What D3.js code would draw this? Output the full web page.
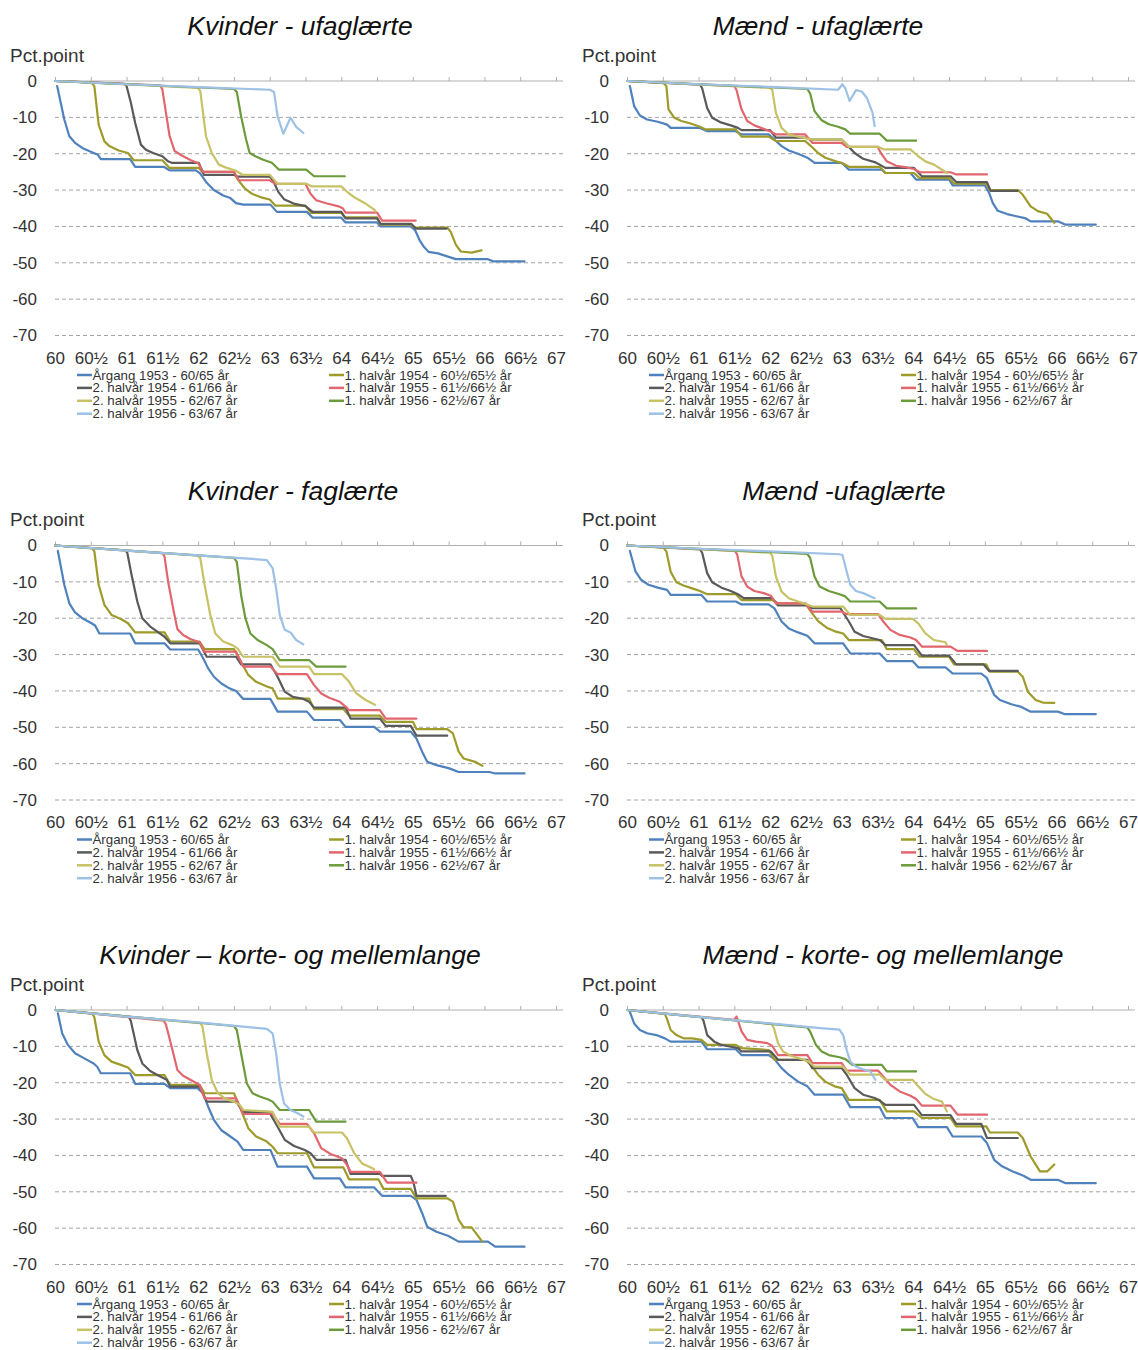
<!DOCTYPE html>
<html><head><meta charset="utf-8">
<script src="https://cdn.jsdelivr.net/npm/d3@7"></script>
<style>body{margin:0;background:#fff}svg{display:block}text{font-family:"Liberation Sans",Arial,sans-serif}</style>
</head><body>
<script>
// ---------- DATA ----------
const xTickValues = [60,60.5,61,61.5,62,62.5,63,63.5,64,64.5,65,65.5,66,66.5,67];
const xTickLabels = ["60","60½","61","61½","62","62½","63","63½","64","64½","65","65½","66","66½","67"];
const yTickValues = [0,-10,-20,-30,-40,-50,-60,-70];
const seriesNames = ["Årgang 1953 - 60/65 år","1. halvår 1954 - 60½/65½ år","2. halvår 1954 - 61/66 år","1. halvår 1955 - 61½/66½ år","2. halvår 1955 - 62/67 år","1. halvår 1956 - 62½/67 år","2. halvår 1956 - 63/67 år"];
const seriesColors = ["#4f81bd","#9e9b2a","#5a5a5a","#e2666e","#c8c266","#6c9b3b","#9dc1e6"];
const panelTitles = ["Kvinder - ufaglærte","Mænd - ufaglærte","Kvinder - faglærte","Mænd -ufaglærte","Kvinder – korte- og mellemlange","Mænd - korte- og mellemlange"];

// each series: flat list of [age, pct.point] pairs
const kvinderUfaglaerte = [
 [60.03,-1.4,60.13,-10.6,60.2,-15.2,60.28,-17,60.38,-18.4,60.54,-19.8,60.6,-20.3,60.64,-21.5,61.05,-21.5,61.12,-23.6,61.52,-23.6,61.6,-24.6,61.97,-24.6,62.03,-25.5,62.12,-28,62.22,-30,62.35,-31.5,62.45,-32.2,62.53,-33.6,62.63,-34,63.01,-34,63.1,-36,63.52,-36,63.6,-37.6,64,-37.6,64.06,-38.9,64.5,-38.9,64.55,-40,64.97,-40,65.03,-41,65.1,-44,65.15,-45.5,65.22,-47,65.35,-47.4,65.6,-49,66.05,-49,66.12,-49.6,66.56,-49.6],
 [60,0,60.51,-0.4,60.55,-1.5,60.61,-12,60.69,-16.6,60.76,-17.9,60.89,-19.1,61.02,-19.8,61.1,-21.8,61.5,-21.8,61.6,-23.9,62.01,-23.9,62.06,-25,62.5,-25,62.55,-27,62.65,-29.5,62.75,-31,62.88,-32,63,-32.6,63.08,-34.3,63.5,-34.3,63.58,-36.3,64,-36.3,64.05,-37.5,64.5,-37.5,64.55,-39.5,64.97,-39.5,65.03,-40.3,65.48,-40.3,65.53,-41.5,65.6,-45,65.67,-46.9,65.82,-47.2,65.96,-46.6],
 [60,0,60.97,-0.8,61,-1.4,61.06,-6,61.12,-11.5,61.2,-17.5,61.27,-18.9,61.37,-19.8,61.5,-20.7,61.58,-22.1,61.63,-22.5,62.01,-22.5,62.08,-25.8,62.5,-25.8,62.55,-26.3,63,-26.3,63.05,-27.5,63.12,-30.5,63.2,-32.5,63.35,-33.8,63.5,-34.4,63.6,-36,64,-36,64.06,-37.8,64.5,-37.8,64.55,-39.3,64.98,-39.3,65.04,-40.6,65.47,-40.6],
 [60,0,61.47,-1.2,61.5,-2.3,61.56,-10,61.6,-15,61.67,-19.2,61.77,-20.5,61.9,-21.8,62,-22.6,62.07,-25,62.5,-25,62.57,-27.3,63,-27.3,63.08,-28.3,63.5,-28.3,63.57,-31,63.65,-32.8,63.8,-33.7,63.95,-34.4,64.02,-35,64.06,-36.2,64.5,-36.2,64.57,-38.4,65.04,-38.4],
 [60,0,62,-1.9,62.03,-2.8,62.11,-15.2,62.19,-19.8,62.29,-23,62.4,-23.9,62.52,-24.6,62.62,-25.8,63,-25.8,63.11,-28.3,63.52,-28.3,63.59,-29,64,-29,64.1,-30.8,64.2,-32.2,64.33,-33.6,64.46,-35.4,64.48,-35.9],
 [60,0,62.5,-2.2,62.54,-3,62.6,-9.7,62.67,-16.1,62.72,-19.8,62.8,-20.7,62.9,-21.6,63.03,-22.5,63.13,-24.4,63.51,-24.4,63.62,-26.2,64.05,-26.2],
 [60,0,61,-0.9,62,-1.7,63,-2.4,63.06,-3,63.11,-9.7,63.19,-14.5,63.29,-10.1,63.37,-12.6,63.47,-14.3]
];
const maendUfaglaerte = [
 [60.04,-1.4,60.1,-6.9,60.18,-9.5,60.28,-10.6,60.43,-11.2,60.56,-12,60.61,-12.9,61.02,-12.9,61.12,-13.8,61.52,-13.8,61.6,-14.7,61.98,-14.7,62.06,-16.1,62.16,-17.9,62.26,-19.1,62.39,-20,62.52,-21.1,62.62,-22.5,63,-22.5,63.1,-24.4,63.56,-24.4,63.61,-25.3,63.96,-25.3,64.04,-27.1,64.5,-27.1,64.55,-28.7,65,-28.7,65.06,-30.8,65.11,-33.5,65.18,-35.7,65.31,-36.6,65.44,-37.2,65.56,-37.7,65.64,-38.6,66.02,-38.6,66.12,-39.5,66.55,-39.5],
 [60,0,60.51,-0.6,60.55,-1.4,60.58,-7.8,60.66,-10.1,60.76,-11,60.89,-11.7,61.02,-12.6,61.09,-13.3,61.52,-13.3,61.6,-15.3,61.98,-15.3,62.08,-16.5,62.49,-16.5,62.57,-17.9,62.67,-19.8,62.77,-21.1,62.92,-22.1,63.02,-22.7,63.1,-23.6,63.53,-23.6,63.61,-25.3,64.01,-25.3,64.09,-26.7,64.5,-26.7,64.57,-28.2,65.02,-28.2,65.07,-30,65.46,-30,65.53,-31.3,65.64,-34.5,65.74,-35.8,65.87,-36.5,65.97,-39],
 [60,0,61.02,-1,61.05,-2,61.12,-7.4,61.19,-10.1,61.3,-11.3,61.45,-12.2,61.55,-12.9,61.6,-13.5,62,-13.5,62.08,-15.6,62.49,-15.6,62.57,-16.1,63,-16.1,63.07,-17.5,63.18,-19.8,63.3,-21.4,63.46,-22.3,63.53,-23,63.61,-23.9,64.01,-23.9,64.12,-26.2,64.52,-26.2,64.6,-27.8,65.03,-27.8,65.08,-30.2,65.46,-30.2],
 [60,0,61.5,-1.4,61.53,-2.5,61.6,-7.8,61.68,-11,61.78,-12.2,61.9,-13.1,62,-13.8,62.08,-14.7,62.49,-14.7,62.59,-17,63,-17,63.07,-18.1,63.5,-18.1,63.56,-20.2,63.63,-22.1,63.76,-23.3,63.89,-23.7,64.01,-24.2,64.09,-25.1,64.52,-25.1,64.6,-25.7,65.03,-25.7],
 [60,0,62,-1.9,62.03,-2.5,62.08,-8.7,62.16,-12.9,62.26,-14.7,62.41,-15.4,62.54,-15.9,62.59,-16.1,63,-16.1,63.1,-18.1,63.51,-18.1,63.58,-18.8,63.96,-18.8,64.07,-20.7,64.17,-22.1,64.29,-23,64.4,-24.4,64.47,-25.3],
 [60,0,62.52,-2.2,62.56,-3.5,62.62,-8.3,62.72,-10.8,62.82,-11.9,62.95,-12.6,63.05,-13.3,63.12,-14.5,63.53,-14.5,63.63,-16.4,64.04,-16.4],
 [60,0,61,-0.9,62,-1.6,62.95,-2.4,63.01,-0.9,63.05,-2,63.11,-5.5,63.2,-2.5,63.28,-2.9,63.35,-4.6,63.43,-8.7,63.46,-12.4]
];
const kvinderFaglaerte = [
 [60.04,-1.5,60.13,-10.8,60.2,-15.9,60.28,-18.4,60.38,-20,60.51,-21.4,60.56,-22,60.62,-24.2,61.05,-24.2,61.12,-26.9,61.53,-26.9,61.61,-28.6,62,-28.6,62.07,-31,62.14,-33.8,62.22,-36.1,62.32,-37.9,62.42,-39.1,62.53,-40,62.63,-42.2,63.01,-42.2,63.11,-45.7,63.52,-45.7,63.62,-48,63.98,-48,64.06,-49.9,64.46,-49.9,64.54,-51.2,64.97,-51.2,65.05,-53.1,65.13,-56.7,65.2,-59.5,65.33,-60.4,65.51,-61.3,65.64,-62.3,66.07,-62.3,66.15,-62.7,66.56,-62.7],
 [60,0,60.52,-0.8,60.55,-1.6,60.61,-10.8,60.69,-16.3,60.79,-19.1,60.92,-20.2,61.02,-21.4,61.12,-23.9,61.53,-23.9,61.61,-26.4,62.02,-26.4,62.09,-28.5,62.5,-28.5,62.6,-32,62.7,-35.6,62.81,-37.5,62.96,-38.8,63.04,-39.3,63.11,-42.1,63.55,-42.1,63.62,-45,64.03,-45,64.11,-46.8,64.54,-46.8,64.62,-48.5,65,-48.5,65.05,-50.5,65.48,-50.5,65.56,-51.7,65.64,-56.7,65.71,-58.6,65.87,-59.5,65.97,-60.6],
 [60,0,60.98,-1.3,61.01,-2,61.07,-8.1,61.15,-15.4,61.22,-20,61.33,-22.3,61.43,-23.7,61.53,-25.1,61.61,-26.9,62.02,-26.9,62.12,-30.6,62.53,-30.6,62.6,-32.7,63.01,-32.7,63.11,-36.1,63.21,-40.2,63.32,-41.6,63.47,-42.2,63.55,-43,63.62,-44.6,64.06,-44.6,64.13,-47.6,64.54,-47.6,64.62,-49.6,64.97,-49.6,65.05,-52.3,65.48,-52.3],
 [60,0,61.5,-2.1,61.53,-3,61.58,-9.9,61.66,-18.2,61.71,-23,61.79,-24.6,61.89,-25.7,62.02,-26.6,62.09,-29.2,62.53,-29.2,62.63,-33.3,63.01,-33.3,63.11,-35.4,63.52,-35.4,63.62,-38.4,63.72,-40.7,63.83,-41.9,63.98,-43,64.06,-44.3,64.11,-45.3,64.54,-45.3,64.62,-47.6,65.05,-47.6],
 [60,0,62,-2.8,62.03,-3.5,62.09,-10.8,62.17,-19.1,62.24,-24.2,62.35,-26.4,62.48,-27.4,62.55,-28.3,62.63,-30.6,63.04,-30.6,63.14,-33.3,63.55,-33.3,63.62,-35.4,64.01,-35.4,64.11,-37.5,64.21,-40.7,64.34,-42.5,64.47,-43.8],
 [60,0,62.5,-3.4,62.54,-4.5,62.6,-13.6,62.66,-20,62.73,-24.2,62.83,-26,62.96,-27.4,63.04,-28.5,63.14,-31.5,63.55,-31.5,63.65,-33.3,64.06,-33.3],
 [60,0,61,-1.4,62,-2.7,62.7,-3.6,62.96,-4,63.04,-6.2,63.09,-11.8,63.14,-19.1,63.21,-23.2,63.29,-23.9,63.37,-26,63.47,-27.2]
];
const maendFaglaerte = [
 [60.04,-1.5,60.12,-7.2,60.2,-9.5,60.3,-10.8,60.43,-11.6,60.56,-12.2,60.61,-13.6,61.04,-13.6,61.12,-15.4,61.52,-15.4,61.6,-16.2,61.98,-16.2,62.06,-17.3,62.16,-20.9,62.26,-22.8,62.39,-23.9,62.52,-24.8,62.62,-26.9,63.02,-26.9,63.12,-29.7,63.53,-29.7,63.63,-31.8,63.99,-31.8,64.07,-33.5,64.45,-33.5,64.55,-35.2,64.95,-35.2,65.03,-36.5,65.13,-41.1,65.21,-42.5,65.36,-43.6,65.51,-44.4,65.64,-45.7,66.02,-45.7,66.12,-46.4,66.55,-46.4],
 [60,0,60.51,-0.6,60.55,-1.6,60.61,-7.2,60.69,-10.1,60.79,-11,60.91,-11.8,61.02,-12.5,61.12,-13.4,61.52,-13.4,61.6,-15,62.03,-15,62.11,-15.9,62.49,-15.9,62.57,-18.2,62.67,-20.8,62.79,-22.6,62.92,-23.7,63.02,-24.2,63.1,-26,63.56,-26,63.63,-28.5,64.01,-28.5,64.09,-30.6,64.5,-30.6,64.57,-32.7,65.02,-32.7,65.07,-34.7,65.46,-34.7,65.53,-36.1,65.6,-40.2,65.71,-42.5,65.81,-43.2,65.97,-43.3],
 [60,0,61.02,-1.1,61.05,-2,61.12,-7.6,61.19,-10.1,61.32,-11.6,61.45,-12.5,61.55,-13.4,61.63,-14.5,62.03,-14.5,62.11,-16.5,62.52,-16.5,62.57,-17.2,62.98,-17.2,63.1,-20.9,63.18,-23.7,63.3,-24.9,63.43,-25.5,63.53,-26,63.61,-27.4,64.01,-27.4,64.12,-30.3,64.5,-30.3,64.6,-32.7,64.98,-32.7,65.06,-34.5,65.46,-34.5],
 [60,0,61.51,-1.5,61.54,-2.5,61.6,-8.5,61.68,-11.3,61.78,-12.5,61.91,-13.1,62.01,-13.8,62.08,-15.9,62.49,-15.9,62.59,-18.2,63,-18.2,63.07,-18.9,63.51,-18.9,63.58,-20.9,63.68,-23.2,63.81,-24.6,63.96,-25.3,64.04,-26,64.12,-27.8,64.52,-27.8,64.62,-29,65.03,-29],
 [60,0,62,-2,62.03,-2.8,62.08,-8.5,62.16,-12.7,62.26,-14.5,62.39,-15.4,62.52,-16.2,62.59,-16.8,63.02,-16.8,63.12,-19.1,63.53,-19.1,63.61,-20.2,63.99,-20.2,64.07,-21.4,64.17,-24.2,64.29,-26,64.45,-26.6,64.47,-27.4],
 [60,0,62.52,-2.3,62.56,-3.5,62.62,-8.5,62.69,-11.3,62.82,-12.5,62.97,-13.4,63.05,-14,63.12,-15.4,63.53,-15.4,63.63,-17.3,64.04,-17.3],
 [60,0,61,-0.9,62,-1.6,62.97,-2.4,63.01,-2.6,63.07,-7.2,63.12,-10.8,63.2,-12.5,63.3,-13.1,63.46,-14.5]
];
const kvinderKorteMellem = [
 [60.04,-0.9,60.1,-6.4,60.18,-9.6,60.28,-11.9,60.41,-13.3,60.54,-14.7,60.59,-15.6,60.64,-17.4,61.05,-17.4,61.12,-20.3,61.53,-20.3,61.61,-21.5,61.99,-21.5,62.07,-22.9,62.14,-26.6,62.22,-30.2,62.32,-33,62.45,-34.8,62.55,-36.2,62.63,-38.5,63.01,-38.5,63.11,-43.1,63.52,-43.1,63.62,-46.3,63.98,-46.3,64.06,-48.8,64.46,-48.8,64.57,-51.1,64.97,-51.1,65.05,-52.2,65.13,-55.9,65.2,-59.6,65.33,-61,65.49,-62.1,65.64,-63.7,66.05,-63.7,66.15,-65.1,66.56,-65.1],
 [60,0,60.52,-1,60.55,-2,60.61,-8.7,60.69,-12.4,60.79,-14.2,60.92,-15.1,61.02,-15.8,61.12,-17.9,61.53,-17.9,61.61,-20.6,62.02,-20.6,62.09,-22.9,62.5,-22.9,62.6,-27.5,62.7,-32.5,62.81,-34.8,62.96,-36.2,63.04,-37.6,63.11,-39.4,63.52,-39.4,63.62,-43.3,64.03,-43.3,64.11,-46.6,64.52,-46.6,64.59,-49.2,64.97,-49.2,65.05,-51.8,65.48,-51.8,65.56,-52.7,65.64,-57.7,65.71,-59.8,65.82,-59.8,65.97,-63.7],
 [60,0,61.03,-1.8,61.06,-3,61.15,-11,61.22,-14.7,61.33,-16.8,61.45,-18.1,61.56,-19.2,61.61,-21.1,62.02,-21.1,62.12,-25.2,62.53,-25.2,62.63,-28,62.99,-28,63.11,-32.1,63.21,-35.7,63.34,-37.4,63.49,-38.5,63.57,-39.4,63.65,-41.2,64.06,-41.2,64.13,-45.1,64.54,-45.1,64.57,-45.6,64.97,-45.6,65.01,-47.5,65.05,-51.1,65.46,-51.1],
 [60,0,61.52,-2.9,61.55,-4,61.63,-10.1,61.71,-16.5,61.79,-18.1,61.91,-19.4,62.02,-20.6,62.09,-24.3,62.53,-24.3,62.63,-28.6,63.04,-28.6,63.14,-31.3,63.52,-31.3,63.62,-33.9,63.72,-38,63.85,-39.6,64.01,-40.8,64.08,-42.6,64.13,-44.5,64.54,-44.5,64.64,-47.5,65.05,-47.5],
 [60,0,62.03,-3.6,62.06,-4.5,62.12,-11.9,62.19,-19.2,62.27,-22.7,62.37,-24.3,62.5,-25.2,62.58,-26.1,62.63,-27.5,63.04,-28,63.14,-32.1,63.55,-32.1,63.62,-33.7,64.01,-33.7,64.08,-35.3,64.18,-39.4,64.29,-42.2,64.39,-43.1,64.46,-43.8],
 [60,0,62.5,-4.4,62.54,-5.5,62.6,-11.9,62.68,-20.2,62.76,-22.9,62.86,-23.8,62.98,-24.6,63.04,-25.2,63.14,-27.5,63.55,-27.5,63.65,-30.7,64.06,-30.7],
 [60,0,61,-1.8,62,-3.4,62.7,-4.7,62.96,-5.2,63.04,-6.4,63.09,-11.9,63.14,-20.2,63.2,-25.7,63.29,-27.5,63.39,-28.4,63.47,-29.3]
];
const maendKorteMellem = [
 [60.04,-0.5,60.1,-3.7,60.18,-5.5,60.28,-6.4,60.41,-6.9,60.53,-7.8,60.61,-8.7,61.04,-8.7,61.12,-10.8,61.52,-10.8,61.6,-12.4,61.98,-12.4,62.06,-13.5,62.16,-16,62.26,-17.8,62.39,-19.7,62.52,-21,62.62,-23.3,63.02,-23.3,63.12,-26.7,63.53,-26.7,63.61,-29.7,63.99,-29.7,64.07,-32.2,64.47,-32.2,64.55,-34.8,64.95,-34.8,65.03,-36.6,65.13,-41.2,65.24,-43,65.39,-44.4,65.54,-45.6,65.64,-46.7,66.02,-46.7,66.12,-47.6,66.55,-47.6],
 [60,0,60.53,-1.1,60.56,-2.5,60.61,-5.5,60.69,-6.9,60.79,-7.8,60.91,-7.8,61.04,-8.2,61.12,-9.6,61.52,-9.6,61.6,-10.5,61.98,-11,62.06,-13.7,62.49,-13.7,62.57,-15.1,62.67,-17.8,62.77,-19.7,62.9,-21,63,-21.5,63.1,-24.7,63.53,-24.7,63.63,-27.9,64.01,-27.9,64.12,-29.7,64.52,-29.7,64.6,-32,65.02,-32,65.07,-33.7,65.46,-33.7,65.53,-35.2,65.64,-40.3,65.77,-44.4,65.87,-44.4,65.97,-42.5],
 [60,0,61.04,-2,61.07,-3,61.12,-6.9,61.22,-8.7,61.32,-9.6,61.45,-10.1,61.55,-10.5,61.6,-11.4,62.01,-11.4,62.11,-13.7,62.52,-13.7,62.59,-16,63,-16,63.07,-17.8,63.18,-21.5,63.3,-23.3,63.46,-24.2,63.53,-24.9,63.61,-26.1,64.01,-26.1,64.12,-28.9,64.52,-28.9,64.6,-31.3,64.95,-31.3,65.03,-35.2,65.46,-35.2],
 [60,0,61.5,-2.7,61.53,-1.8,61.56,-3.5,61.6,-5.9,61.68,-8.2,61.8,-8.7,61.96,-9.1,62.03,-9.9,62.11,-12.4,62.52,-12.4,62.59,-14.6,63,-14.6,63.07,-16.7,63.51,-16.7,63.58,-18.3,63.68,-20.6,63.81,-22.4,63.96,-23.6,64.04,-24.5,64.12,-26.3,64.52,-26.3,64.62,-28.8,65.03,-28.8],
 [60,0,62.02,-3.8,62.05,-4.8,62.11,-9.1,62.18,-11.4,62.29,-12.6,62.44,-13.5,62.54,-14.2,62.62,-15.6,63.02,-15.6,63.12,-17.8,63.53,-17.8,63.61,-19.2,63.99,-19.2,64.07,-21,64.17,-23.1,64.29,-24.5,64.4,-25.2,64.47,-27.9],
 [60,0,62.52,-4.8,62.56,-6,62.64,-9.6,62.72,-11.4,62.82,-12.4,62.97,-13,63.05,-13.5,63.15,-15.1,63.56,-15.1,63.63,-16.9,64.04,-16.9],
 [60,0,61,-1.9,62,-3.7,62.7,-5,62.97,-5.4,63.02,-6.9,63.07,-11,63.12,-14.2,63.2,-15.6,63.3,-16.3,63.4,-16.9,63.47,-19.2]
];
const panelData = [kvinderUfaglaerte, maendUfaglaerte, kvinderFaglaerte, maendFaglaerte, kvinderKorteMellem, maendKorteMellem];

// ---------- LAYOUT ----------
const W = 1138, H = 1350;
const titleCenters = [300, 818, 293, 844, 290, 883];
const svg = d3.select("body").append("svg").attr("width", W).attr("height", H);
const toPairs = a => d3.range(0, a.length, 2).map(k => [a[k], a[k + 1]]);

panelData.forEach((series, i) => {
  const col = i % 2, row = Math.floor(i / 2);
  const ox = col * 572, oy = row * 464.5;
  const x = d3.scaleLinear().domain([60, 67]).range([55 + ox, 556 + ox]);
  const y = d3.scaleLinear().domain([0, -70]).range([81 + oy, 335.5 + oy]);
  const gx0 = x(60), gx1 = x(60) + 508;
  const g = svg.append("g");

  // title
  g.append("text").attr("x", titleCenters[i]).attr("y", 35 + oy)
    .attr("text-anchor", "middle")
    .attr("font-size", 26.5).attr("font-style", "italic").attr("fill", "#111")
    .text(panelTitles[i]);
  // unit label
  g.append("text").attr("x", 10 + ox).attr("y", 61.5 + oy)
    .attr("font-size", 19).attr("fill", "#333").text("Pct.point");

  // dashed gridlines
  g.selectAll("line.grid").data(yTickValues.filter(v => v < 0)).join("line")
    .attr("class", "grid").attr("x1", gx0).attr("x2", gx1)
    .attr("y1", d => y(d)).attr("y2", d => y(d))
    .attr("stroke", "#a3a3a3").attr("stroke-width", 1).attr("stroke-dasharray", "4,3");

  // y axis labels
  const ya = g.append("g").attr("transform", `translate(${gx0 - 18},0)`)
    .call(d3.axisLeft(y).tickValues(yTickValues).tickSize(0).tickPadding(0).tickFormat(d => String(d)));
  ya.select(".domain").remove();
  ya.selectAll("text").attr("font-size", 17).attr("fill", "#333").attr("font-family", "Liberation Sans, Arial, sans-serif");

  // top axis line with ticks at y = 0
  g.append("line").attr("x1", gx0).attr("x2", gx1).attr("y1", y(0)).attr("y2", y(0))
    .attr("stroke", "#b0b0b0").attr("stroke-width", 1);
  const xt = g.append("g").attr("transform", `translate(0,${y(0)})`)
    .call(d3.axisTop(x).tickValues(xTickValues).tickSize(4).tickSizeOuter(0).tickFormat(""));
  xt.select(".domain").remove();
  xt.selectAll("line").attr("stroke", "#b0b0b0");

  // x labels (low position)
  const xb = g.append("g").attr("transform", `translate(0,${y(-70)})`)
    .call(d3.axisBottom(x).tickValues(xTickValues).tickSize(0).tickPadding(16)
      .tickFormat((d, k) => xTickLabels[k]));
  xb.select(".domain").remove();
  xb.selectAll("text").attr("font-size", 17).attr("fill", "#333").attr("font-family", "Liberation Sans, Arial, sans-serif");

  // lines
  const line = d3.line().x(d => x(d[0])).y(d => y(d[1]));
  series.forEach((s, k) => {
    g.append("path").attr("d", line(toPairs(s))).attr("fill", "none")
      .attr("stroke", seriesColors[k]).attr("stroke-width", 2.2)
      .attr("stroke-linejoin", "round").attr("stroke-linecap", "round");
  });

  // legend (two columns, row-wise fill)
  const ly = y(-70) + 39.5;
  seriesNames.forEach((name, k) => {
    const c = k % 2, r = Math.floor(k / 2);
    const lx = gx0 + 22 + c * 252, yy = ly + r * 12.9;
    g.append("line").attr("x1", lx).attr("x2", lx + 15).attr("y1", yy).attr("y2", yy)
      .attr("stroke", seriesColors[k]).attr("stroke-width", 2.5);
    g.append("text").attr("x", lx + 15.5).attr("y", yy).attr("dominant-baseline", "central")
      .attr("font-size", 13.3).attr("fill", "#333").text(name);
  });
});
</script>
</body></html>
